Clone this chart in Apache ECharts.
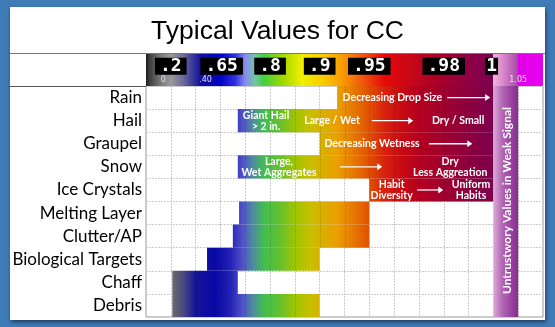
<!DOCTYPE html>
<html><head><meta charset="utf-8">
<script src="https://cdn.jsdelivr.net/npm/echarts@6/dist/echarts.min.js"></script>
<style>html,body{margin:0;padding:0;background:#3f7bb7;overflow:hidden}#c{width:555px;height:327px}</style>
</head><body><div id="c"></div>
<script>
// ---- data ----
const categories = ['Rain','Hail','Graupel','Snow','Ice Crystals','Melting Layer','Clutter/AP','Biological Targets','Chaff','Debris'];
const rangeStart = [7.7, 3.7, 7.0, 3.7, 9.0, 3.75, 3.5, 2.46, 1.06, 1.06];
const rangeEnd   = [14, 14, 14, 14, 14, 9, 9, 7, 3.7, 7];
const headerTicks = ['.2', '.65', '.8', '.9', '.95', '.98', '1'];
const headerTickPos = [1, 3.05, 5, 7, 9, 12, 13.93];
const scaleNotes = ['0', '.40', '1.05'];
const scaleNotePos = [0.7, 2.4, 15.0];
const noteText = ['Decreasing Drop Size', 'Giant Hail\n> 2 in.', 'Large / Wet', 'Dry / Small', 'Decreasing Wetness', 'Large,\nWet Aggregates', 'Dry\nLess Aggreation', 'Habit\nDiversity', 'Uniform\nHabits'];
const noteRow = [0, 1, 1, 1, 2, 3, 3, 4, 4];
const noteX = [9.93, 4.84, 7.5, 12.58, 9.11, 5.36, 12.26, 9.9, 13.1];
const arrowRow = [0, 1, 2, 3, 4];
const arrowFrom = [12.14, 9.1, 11.4, 7.82, 10.93];
const arrowTo = [13.87, 10.77, 13.15, 9.52, 11.98];
const weakBand = [14, 15];
const weakText = 'Untrustwory Values in Weak Signal';
// colour scales (column units 0..16)
const gridStops = [[0,'#7a7a7a'],[1.0,'#6e6e6e'],[1.5,'#4a4a7e'],[2.0,'#14149a'],[2.8,'#0808a6'],[3.4,'#2222b4'],[3.9,'#5252c8'],[4.3,'#4e8aa0'],[4.8,'#42c04a'],[5.3,'#5cc034'],[6.0,'#9ec400'],[6.6,'#c6c000'],[7.0,'#d6b200'],[7.7,'#eaa000'],[8.3,'#e67c00'],[9.0,'#e05000'],[9.6,'#d8220e'],[10.3,'#c80a12'],[11.0,'#b40020'],[12.0,'#a0002e'],[13.0,'#8c003e'],[14.0,'#7c004e'],[16,'#7c004e']];
const headerStops = [[0,'#1a1a1a'],[0.12,'#3a3a3a'],[0.6,'#7a7a7a'],[1.0,'#9a9a9a'],[1.5,'#6a6a9a'],[2.2,'#10109a'],[3.0,'#0000c4'],[3.6,'#3030e0'],[4.0,'#8a8af4'],[4.4,'#70c8a0'],[4.75,'#40d040'],[5.5,'#a0d800'],[6.3,'#f2f000'],[7.2,'#f8c800'],[8.0,'#f89400'],[8.8,'#f05010'],[9.6,'#e80808'],[10.6,'#c80818'],[11.8,'#a80028'],[13.0,'#900044'],[13.97,'#7a0050'],[14.0,'#f4b4dc'],[14.5,'#d07cc4'],[14.97,'#a84ca8'],[15.0,'#e000e6'],[16,'#e800f0']];
const COLS = 16;

const chart = echarts.init(document.getElementById('c'), null, {renderer: 'canvas'});

function globalGrad(api, stops) {
  const x0 = api.coord([0, 0])[0], x1 = api.coord([COLS, 0])[0];
  return new echarts.graphic.LinearGradient(x0, 0, x1, 0,
    stops.map(s => ({offset: s[0] / COLS, color: s[1]})), true);
}

const barData = categories.map((c, i) => [rangeStart[i], rangeEnd[i], i]);
const noteData = noteText.map((t, i) => [noteX[i], noteRow[i], i]);
const arrowData = arrowRow.map((r, i) => [arrowFrom[i], arrowTo[i], r]);
const tickData = headerTicks.map((t, i) => [headerTickPos[i], 0.6, i]);
const smallData = scaleNotes.map((t, i) => [scaleNotePos[i], 0.17, i]);

const option = {
  animation: false,
  title: {text: 'Typical Values for CC', left: 'center', top: 13,
    textStyle: {fontFamily: 'Liberation Sans', fontSize: 26.5, fontWeight: 'normal', color: '#000'}},
  graphic: [
    {type: 'rect', z: -10, shape: {x: 10, y: 7, width: 535, height: 313},
      style: {fill: '#fff', shadowBlur: 4, shadowColor: 'rgba(0,0,0,0.5)', shadowOffsetY: 2, shadowOffsetX: 1}},
    {type: 'line', z: 10, shape: {x1: 10, y1: 53.5, x2: 545, y2: 53.5}, style: {stroke: '#777', lineWidth: 1}},
    {type: 'line', z: 10, shape: {x1: 10, y1: 86.5, x2: 146, y2: 86.5}, style: {stroke: '#555', lineWidth: 1.2}}
  ],
  grid: [
    {left: 146, right: 12, top: 86, bottom: 10, show: true, borderColor: '#999', borderWidth: 1},
    {left: 146, right: 12, top: 53, height: 33}
  ],
  xAxis: [
    {type: 'value', min: 0, max: COLS, interval: 1, gridIndex: 0,
      axisLabel: {show: false}, axisTick: {show: false}, axisLine: {show: false},
      splitLine: {show: true, lineStyle: {color: '#cccccc', type: [2, 1]}}},
    {type: 'value', min: 0, max: COLS, gridIndex: 1, show: false}
  ],
  yAxis: [
    {type: 'category', data: categories, inverse: true, gridIndex: 0,
      axisLine: {show: false}, axisTick: {show: false},
      axisLabel: {fontFamily: 'Lato', fontSize: 17, color: '#000', margin: 4},
      splitLine: {show: true, interval: 0, lineStyle: {color: '#cccccc', type: [2, 1]}}},
    {type: 'value', min: 0, max: 1, gridIndex: 1, show: false}
  ],
  series: [
    { // header colour scale
      type: 'custom', xAxisIndex: 1, yAxisIndex: 1, clip: false, z: 2,
      data: [[0, COLS]],
      renderItem(params, api) {
        const p0 = api.coord([api.value(0), 1]), p1 = api.coord([api.value(1), 0]);
        return {type: 'rect', shape: {x: p0[0], y: p0[1], width: p1[0] - p0[0], height: p1[1] - p0[1]},
          style: {fill: globalGrad(api, headerStops)}};
      }
    },
    { // header tick boxes
      type: 'custom', xAxisIndex: 1, yAxisIndex: 1, clip: false, z: 4,
      data: tickData,
      renderItem(params, api) {
        const p = api.coord([api.value(0), api.value(1)]);
        const t = headerTicks[api.value(2)];
        return {type: 'text', x: p[0], y: p[1],
          style: {text: t, fill: '#fff', font: 'bold 18px "DejaVu Sans Mono"', align: 'center', verticalAlign: 'middle',
            backgroundColor: '#000', padding: t.length === 1 ? [0, 1] : [0, 5], lineHeight: 17}};
      }
    },
    { // header small notes
      type: 'custom', xAxisIndex: 1, yAxisIndex: 1, clip: false, z: 4,
      data: smallData,
      renderItem(params, api) {
        const p = api.coord([api.value(0), api.value(1)]);
        return {type: 'text', x: p[0], y: p[1],
          style: {text: scaleNotes[api.value(2)], fill: '#e4e4f0', font: '8px "DejaVu Sans"', align: 'center', verticalAlign: 'middle'}};
      }
    },
    { // category ranges
      type: 'custom', clip: false, z: 2,
      data: barData,
      encode: {x: [0, 1], y: 2},
      renderItem(params, api) {
        const r = api.value(2);
        const s = api.value(0), e = api.value(1);
        const p0 = api.coord([s, r]), p1 = api.coord([e, r]);
        const h = api.size([0, 1])[1];
        const y = p0[1] - h / 2;
        const children = [{type: 'rect', shape: {x: p0[0], y, width: p1[0] - p0[0], height: h},
          style: {fill: globalGrad(api, gridStops)}}];
        for (let k = Math.ceil(s); k < e; k++) {
          const xx = Math.round(api.coord([k, r])[0]) + 0.5;
          children.push({type: 'line', shape: {x1: xx, y1: y, x2: xx, y2: y + h},
            style: {stroke: 'rgba(0,0,0,0.13)', lineWidth: 1, lineDash: [2, 1]}});
        }
        return {type: 'group', children};
      }
    },
    { // weak signal band
      type: 'custom', clip: false, z: 3,
      data: [[weakBand[0], weakBand[1], 0, categories.length - 1]],
      renderItem(params, api) {
        const h = api.size([0, 1])[1];
        const p0 = api.coord([api.value(0), api.value(2)]), p1 = api.coord([api.value(1), api.value(3)]);
        const x = p0[0], y = p0[1] - h / 2, w = p1[0] - p0[0], hh = p1[1] + h / 2 - y;
        return {type: 'group', children: [
          {type: 'rect', shape: {x, y, width: w, height: hh},
            style: {fill: new echarts.graphic.LinearGradient(0, 0, 1, 0, [
              {offset: 0, color: '#dcaad8'}, {offset: 0.35, color: '#b468b4'}, {offset: 0.7, color: '#9a44a0'}, {offset: 1, color: '#82308e'}])}},
          {type: 'text', x: x + w / 2 + 1, y: y + hh / 2 - 1, rotation: Math.PI / 2,
            style: {text: weakText, fill: '#fff', font: 'bold 12px Lato', align: 'center', verticalAlign: 'middle'}}
        ]};
      }
    },
    { // arrows
      type: 'custom', clip: false, z: 5,
      data: arrowData,
      renderItem(params, api) {
        const r = api.value(2);
        const p0 = api.coord([api.value(0), r]), p1 = api.coord([api.value(1), r]);
        const y = p0[1];
        return {type: 'group', children: [
          {type: 'line', shape: {x1: p0[0], y1: y, x2: p1[0] - 3, y2: y}, style: {stroke: '#fff', lineWidth: 1.3}},
          {type: 'polygon', shape: {points: [[p1[0], y], [p1[0] - 5, y - 3.5], [p1[0] - 5, y + 3.5]]}, style: {fill: '#fff'}}
        ]};
      }
    },
    { // annotations
      type: 'custom', clip: false, z: 6,
      data: noteData,
      renderItem(params, api) {
        const p = api.coord([api.value(0), api.value(1)]);
        return {type: 'text', x: p[0], y: p[1],
          style: {text: noteText[api.value(2)], fill: '#fff', font: 'bold 10.5px Lato', align: 'center', verticalAlign: 'middle', lineHeight: 11}};
      }
    }
  ]
};
chart.setOption(option);
</script>
</body></html>
